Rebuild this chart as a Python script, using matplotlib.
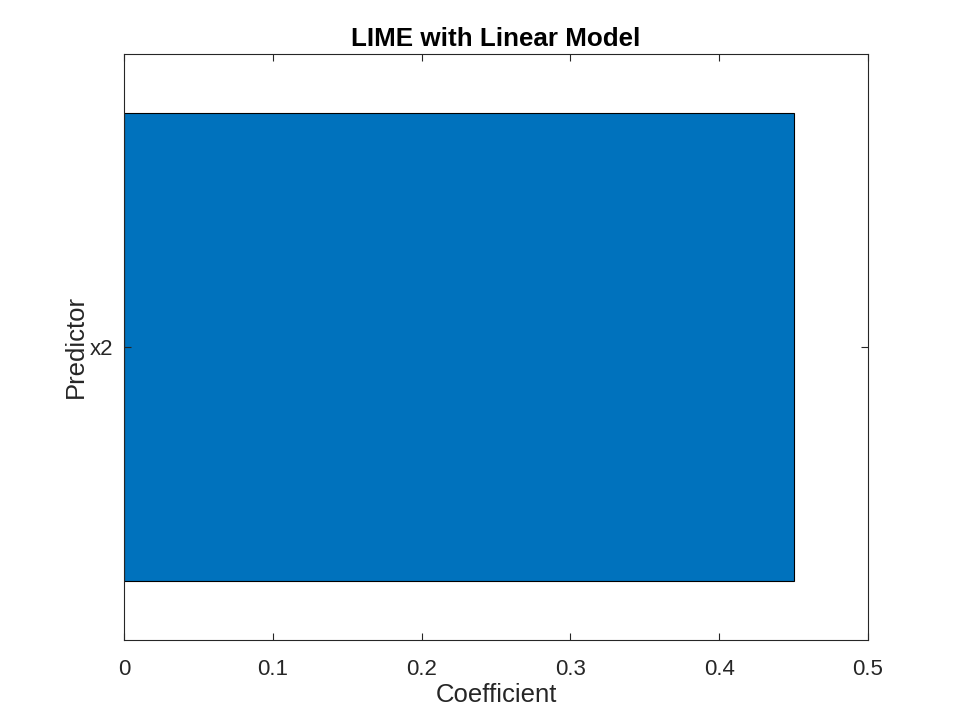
import matplotlib
matplotlib.use("Agg")
import matplotlib.pyplot as plt

predictors = ["x2"]
coefficients = [0.45]
xticks = [0, 0.1, 0.2, 0.3, 0.4, 0.5]
xticklabels = ["0", "0.1", "0.2", "0.3", "0.4", "0.5"]

plt.rcParams['font.family'] = ['Liberation Sans', 'DejaVu Sans']
fig = plt.figure(figsize=(9.6, 7.2), dpi=100)
ax = fig.add_axes([124/960, 80/720, 744/960, 586/720])

ypos = list(range(1, len(predictors) + 1))
ax.barh(ypos, coefficients, height=0.8, color="#0072BD", edgecolor="black", linewidth=0.8)
ax.set_xlim(0, 0.5)
ax.set_ylim(0.5, len(predictors) + 0.5)
ax.set_xticks(xticks)
ax.set_xticklabels(xticklabels)
ax.set_yticks(ypos)
ax.set_yticklabels(predictors)

tc = "#262626"
ax.tick_params(axis='both', direction='in', length=5, width=0.8, colors=tc, labelsize=16,
               top=True, right=True)
ax.tick_params(axis='x', pad=14)
ax.tick_params(axis='y', pad=8)
for s in ax.spines.values():
    s.set_color(tc)
    s.set_linewidth(0.8)

ax.set_xlabel("Coefficient", fontsize=18.5, color=tc, labelpad=1.5)
ax.set_ylabel("Predictor", fontsize=18.5, color=tc, labelpad=1)
ax.set_title("LIME with Linear Model", fontsize=18.7, fontweight='bold', color='black', pad=6)

fig.savefig("out.png", dpi=100)
